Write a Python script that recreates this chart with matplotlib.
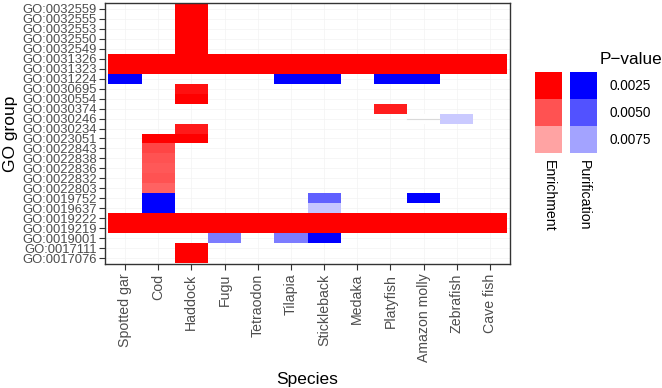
import matplotlib
matplotlib.use("Agg")
import matplotlib.pyplot as plt
import numpy as np

plt.rcParams['font.family'] = ['Liberation Sans', 'DejaVu Sans']

go_terms = ["GO:0017076", "GO:0017111", "GO:0019001", "GO:0019219", "GO:0019222",
            "GO:0019637", "GO:0019752", "GO:0022803", "GO:0022832", "GO:0022836",
            "GO:0022838", "GO:0022843", "GO:0023051", "GO:0030234", "GO:0030246",
            "GO:0030374", "GO:0030554", "GO:0030695", "GO:0031224", "GO:0031323",
            "GO:0031326", "GO:0032549", "GO:0032550", "GO:0032553", "GO:0032555",
            "GO:0032559"]
species = ["Spotted gar", "Cod", "Haddock", "Fugu", "Tetraodon", "Tilapia",
           "Stickleback", "Medaka", "Platyfish", "Amazon molly", "Zebrafish", "Cave fish"]

# tiles: species, GO term, type (E = enrichment, P = purification), p-value
tile_species = []
tile_go = []
tile_type = []
tile_p = []

def add(sp, go, t, p):
    tile_species.append(sp); tile_go.append(go); tile_type.append(t); tile_p.append(p)

for sp in species:
    add(sp, "GO:0031326", "E", 0.002)
    add(sp, "GO:0031323", "E", 0.002)
    add(sp, "GO:0019222", "E", 0.002)
    add(sp, "GO:0019219", "E", 0.002)
for go in ["GO:0032559", "GO:0032555", "GO:0032553", "GO:0032550", "GO:0032549"]:
    add("Haddock", go, "E", 0.002)
for sp in ["Spotted gar", "Tilapia", "Stickleback", "Platyfish", "Amazon molly"]:
    add(sp, "GO:0031224", "P", 0.002)
add("Haddock", "GO:0030695", "E", 0.0030)
add("Haddock", "GO:0030554", "E", 0.0022)
add("Platyfish", "GO:0030374", "E", 0.0034)
add("Amazon molly", "GO:0030246", "P", 0.0105)
add("Zebrafish", "GO:0030246", "P", 0.0087)
add("Haddock", "GO:0030234", "E", 0.0033)
add("Cod", "GO:0023051", "E", 0.002)
add("Haddock", "GO:0023051", "E", 0.002)
add("Cod", "GO:0022843", "E", 0.0046)
add("Cod", "GO:0022838", "E", 0.0050)
add("Cod", "GO:0022836", "E", 0.0052)
add("Cod", "GO:0022832", "E", 0.0050)
add("Cod", "GO:0022803", "E", 0.0055)
add("Cod", "GO:0019752", "P", 0.002)
add("Cod", "GO:0019637", "P", 0.002)
add("Stickleback", "GO:0019752", "P", 0.0054)
add("Stickleback", "GO:0019637", "P", 0.0085)
add("Amazon molly", "GO:0019752", "P", 0.002)
add("Fugu", "GO:0019001", "P", 0.0063)
add("Tilapia", "GO:0019001", "P", 0.0063)
add("Stickleback", "GO:0019001", "P", 0.002)
add("Haddock", "GO:0017111", "E", 0.002)
add("Haddock", "GO:0017076", "E", 0.002)

legend_p = [0.0025, 0.0050, 0.0075]
type_colors = {"E": (1.0, 0.0, 0.0), "P": (0.0, 0.0, 1.0)}
type_names = {"E": "Enrichment", "P": "Purification"}


def alpha_of(p):
    return float(np.clip(1.0 - 128.0 * (p - 0.0025), 0.0, 1.0))


def rgba(t, p):
    a = alpha_of(p)
    r, g, b = type_colors[t]
    return (1 - a + a * r, 1 - a + a * g, 1 - a + a * b)


W, H = 662, 388
fig = plt.figure(figsize=(W / 100, H / 100), dpi=100)
L, R, T, B = 105, 510, 3, 264
ax = fig.add_axes([L / W, 1 - B / H, (R - L) / W, (B - T) / H])

xs = [species.index(s) for s in tile_species]
ys = [go_terms.index(g) for g in tile_go]
cols = [rgba(t, p) for t, p in zip(tile_type, tile_p)]
ax.bar(xs, 1.0, bottom=np.array(ys) - 0.5, width=1.0, color=cols,
       edgecolor='none', linewidth=0, zorder=2)
# faint seam for the near-zero tile
for s, g, p in zip(tile_species, tile_go, tile_p):
    if alpha_of(p) == 0.0:
        xi = species.index(s); yi = go_terms.index(g)
        ax.plot([xi - 0.5, xi + 0.5], [yi, yi], color='#d9d9d9', lw=0.8, zorder=3)

ax.set_xlim(-0.6, len(species) - 0.4)
ax.set_ylim(-0.6, len(go_terms) - 0.4)
ax.set_xticks(range(len(species)))
ax.set_xticklabels(species, rotation=90, fontsize=10.2, color='#4d4d4d')
ax.set_yticks(range(len(go_terms)))
ax.set_yticklabels(go_terms, fontsize=9.4, color='#4d4d4d')
ax.tick_params(axis='both', color='#333333', length=4, width=0.8, pad=2)
ax.tick_params(axis='x', pad=3)
ax.grid(True, color='#f3f3f3', linewidth=0.5, zorder=0)
ax.set_axisbelow(True)
for sp_ in ax.spines.values():
    sp_.set_color('#333333')
    sp_.set_linewidth(1.0)
ax.set_xlabel("Species", fontsize=12.5, labelpad=7)
ax.set_ylabel("GO group", fontsize=12.5, labelpad=3)

# legend
fig.text(600 / W, 1 - 60 / H, "P\u2212value", fontsize=12.3, va='center', ha='left')
sw_w, sw_h = 27, 27
for ci, (t, x0) in enumerate([("E", 535), ("P", 570)]):
    for i, p in enumerate(legend_p):
        y0 = 72 + i * sw_h
        lax = fig.add_axes([x0 / W, 1 - (y0 + sw_h) / H, sw_w / W, sw_h / H])
        lax.set_facecolor(rgba(t, p))
        lax.set_xticks([]); lax.set_yticks([])
        for s in lax.spines.values():
            s.set_visible(False)
    fig.text((x0 + sw_w / 2) / W, 1 - 160 / H, type_names[t], rotation=-90,
             fontsize=10.2, ha='center', va='top')
for i, p in enumerate(legend_p):
    fig.text(609 / W, 1 - (72 + i * sw_h + sw_h / 2) / H, f"{p:.4f}",
             fontsize=9.8, ha='left', va='center')

fig.savefig("out.png", dpi=100)
